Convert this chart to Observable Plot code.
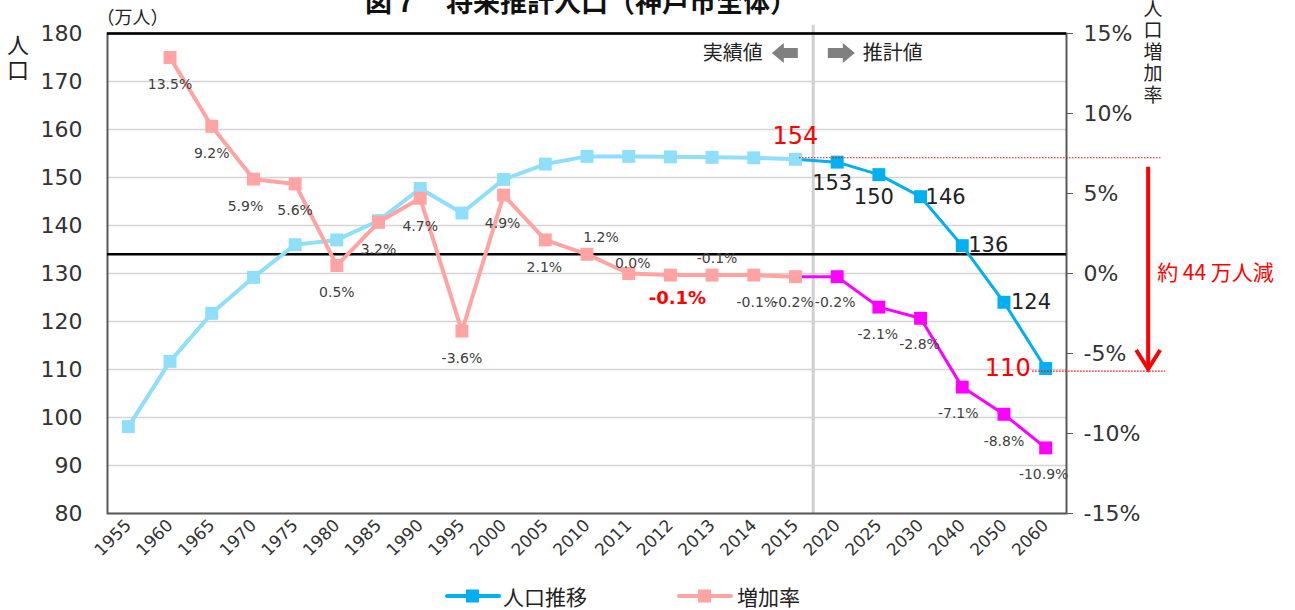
<!DOCTYPE html>
<html><head><meta charset="utf-8">
<script src="https://cdn.jsdelivr.net/npm/d3@7"></script>
<script src="https://cdn.jsdelivr.net/npm/@observablehq/plot@0.6"></script>
<style>
body{margin:0;background:#fff;overflow:hidden;font-family:"DejaVu Sans","Noto Sans CJK JP",sans-serif;}
#wrap{position:relative;width:1295px;height:610px;overflow:hidden;}
#title{position:absolute;left:0;width:1162px;text-align:center;top:-13px;font-size:27px;line-height:27px;font-weight:bold;font-family:"Noto Sans CJK JP",sans-serif;color:#111;}
#legend{position:absolute;left:0;top:570px;width:1295px;height:40px;font-family:"Noto Sans CJK JP",sans-serif;}
#legend span{position:absolute;font-size:21px;line-height:24px;top:14px;color:#222;}
#legend svg{position:absolute;top:18px;}
</style></head><body>
<div id="wrap">
<div id="chart"></div>
<div id="title">図７　将来推計人口（神戸市全体）</div>
<div id="legend"></div>
</div>
<script>
// ---- data ----
const years = ["1955","1960","1965","1970","1975","1980","1985","1990","1995","2000","2005","2010","2011","2012","2013","2014","2015","2020","2025","2030","2040","2050","2060"];
const actualYears = years.slice(0, 17);
const projYears = years.slice(17);
const popActual = [98.1,111.7,121.7,129.2,136.0,137.0,141.0,147.7,142.6,149.6,152.8,154.4,154.4,154.3,154.2,154.1,153.8];
const popProj = [153.2,150.6,146.0,135.8,124.0,110.2];
const rateActualYears = years.slice(1, 17);
const rateActual = [13.5,9.2,5.9,5.6,0.5,3.2,4.7,-3.6,4.9,2.1,1.2,0.0,-0.1,-0.1,-0.1,-0.2];
const rateProj = [-0.2,-2.1,-2.8,-7.1,-8.8,-10.9];
const popLabelYears = ["2015","2020","2025","2030","2040","2050","2060"];
const popLabels = ["154","153","150","146","136","124","110"];
const popTicks = [80,90,100,110,120,130,140,150,160,170,180];
const rateTicks = [-15,-10,-5,0,5,10,15];
const seriesNames = ["人口推移","増加率"];
const leftAxisTitle = "人口";
const rightAxisTitle = "人口増加率";

// ---- layout / style (not data) ----
const rateLabelOffsets = [[0,27],[0,27],[-8,27],[0,27],[0,27],[0,27],[0,28],[0,27],[-1,28],[-1,28],[14,-17],[4,-10],[7,23],[5,-17],[3,27],[-2,26],[-2,26],[-1,27],[-1,26],[-4,26],[0,27],[-2,27]];
const popLabelOffsets = [[0,-23,"middle"],[-5,21,"middle"],[-5,23,"middle"],[5,1,"start"],[6,0,"start"],[7,0,"start"],[-15,0,"end"]];
const C = {light:"#8fdefa", blue:"#00b0f0", pink:"#ffa3a3", mag:"#ff00ff", red:"#ff0000", grid:"#d4d4d4", axis:"#595959", text:"#333"};
const JP = "'Noto Sans CJK JP',sans-serif";

const toY = r => 130 + r * 10 / 3;   // secondary axis (%) -> primary scale

const popA = actualYears.map((yr, i) => ({yr, v: popActual[i]}));
const popP = [{yr: "2015", v: popActual[16]}].concat(projYears.map((yr, i) => ({yr, v: popProj[i]})));
const rateA = rateActualYears.map((yr, i) => ({yr, v: toY(rateActual[i]), r: rateActual[i]}));
const rateP = [{yr: "2015", v: toY(rateActual[15]), r: rateActual[15]}].concat(projYears.map((yr, i) => ({yr, v: toY(rateProj[i]), r: rateProj[i]})));
const rateAll = rateA.concat(rateP.slice(1));
const popAllMap = new Map(popA.concat(popP.slice(1)).map(d => [d.yr, d.v]));

const fmtRate = r => r.toFixed(1) + "%";

const rateLabelMarks = rateAll.map((d, i) => {
  const special = d.yr === "2012";
  return Plot.text([d], {x: "yr", y: "v", text: dd => fmtRate(dd.r),
    dx: rateLabelOffsets[i][0], dy: rateLabelOffsets[i][1],
    fontSize: special ? 18 : 14, fontWeight: special ? "bold" : "normal",
    fill: special ? C.red : "#404040"});
});
const popLabelMarks = popLabelYears.map((yr, i) => {
  const red = (i === 0 || i === popLabelYears.length - 1);
  return Plot.text([{yr, v: popAllMap.get(yr), t: popLabels[i]}], {x: "yr", y: "v", text: "t",
    dx: popLabelOffsets[i][0], dy: popLabelOffsets[i][1], textAnchor: popLabelOffsets[i][2],
    fontSize: red ? 24 : 21, fill: red ? C.red : "#222"});
});

function annotations(index, scales, values, dims) {
  const x = scales.x, y = scales.y;
  const g = d3.create("svg:g");
  const x15 = x("2015"), x20 = x("2020"), x60 = x("2060");
  const sep = (x15 + x20) / 2 - 3;
  const yTop = y(popActual[16]), yBot = y(popProj[popProj.length - 1]) + 3;
  // vertical axis titles
  g.append("text").attr("x", dims.marginLeft - 89).attr("y", y(180) + 1)
    .style("writing-mode", "vertical-rl").attr("text-anchor", "start")
    .attr("font-size", 22).attr("letter-spacing", 3).attr("fill", "#222").attr("font-family", JP).text(leftAxisTitle);
  g.append("text").attr("x", dims.width - dims.marginRight + 87).attr("y", -1)
    .style("writing-mode", "vertical-rl").attr("text-anchor", "start")
    .attr("font-size", 19).attr("letter-spacing", 2.5).attr("fill", "#222").attr("font-family", JP).text(rightAxisTitle);
  // dotted reference lines
  g.append("line").attr("x1", x15 + 4).attr("x2", x60 + 116).attr("y1", yTop - 1).attr("y2", yTop - 1)
    .attr("stroke", C.red).attr("stroke-width", 1.2).attr("stroke-dasharray", "1.5,1.5");
  g.append("line").attr("x1", x60 - 13).attr("x2", x60 + 120).attr("y1", yBot).attr("y2", yBot)
    .attr("stroke", C.red).attr("stroke-width", 1.2).attr("stroke-dasharray", "1.5,1.5");
  // red arrow
  const ax = x60 + 103;
  g.append("line").attr("x1", ax).attr("x2", ax).attr("y1", yTop + 8).attr("y2", yBot - 2)
    .attr("stroke", C.red).attr("stroke-width", 4);
  g.append("path").attr("d", `M${ax - 12},${yBot - 21}L${ax},${yBot - 2}L${ax + 12},${yBot - 21}`)
    .attr("fill", "none").attr("stroke", C.red).attr("stroke-width", 4).attr("stroke-linejoin", "miter");
  g.append("text").attr("x", ax + 9).attr("y", y(130)).attr("dy", "0.35em").attr("text-anchor", "start")
    .attr("fill", C.red).attr("font-size", 21).attr("font-family", JP)
    .text("約 44 万人減");
  // 実績値 / 推計値 arrows
  const ay = y(180) + 20;
  g.append("text").attr("x", sep - 50).attr("y", ay).attr("dy", "0.35em").attr("text-anchor", "end")
    .attr("font-size", 20).attr("fill", "#222").attr("font-family", JP).text("実績値");
  g.append("text").attr("x", sep + 50).attr("y", ay).attr("dy", "0.35em").attr("text-anchor", "start")
    .attr("font-size", 20).attr("fill", "#222").attr("font-family", JP).text("推計値");
  const l0 = sep - 41, l1 = sep - 15;
  g.append("path").attr("d", `M${l0},${ay}L${l0 + 12},${ay - 10}L${l0 + 12},${ay - 5}L${l1},${ay - 5}L${l1},${ay + 5}L${l0 + 12},${ay + 5}L${l0 + 12},${ay + 10}Z`).attr("fill", "#808080");
  const r0 = sep + 15, r1 = sep + 42;
  g.append("path").attr("d", `M${r1},${ay}L${r1 - 12},${ay - 10}L${r1 - 12},${ay - 5}L${r0},${ay - 5}L${r0},${ay + 5}L${r1 - 12},${ay + 5}L${r1 - 12},${ay + 10}Z`).attr("fill", "#808080");
  return g.node();
}

const chart = Plot.plot({
  width: 1295, height: 570,
  marginTop: 33, marginBottom: 57, marginLeft: 107, marginRight: 229,
  style: {fontFamily: "'DejaVu Sans','Noto Sans CJK JP',sans-serif", color: C.text, background: "#fff", overflow: "visible"},
  x: {type: "point", domain: years, padding: 0.5, round: false, axis: null},
  y: {domain: [80, 180], axis: null},
  marks: [
    Plot.gridY(popTicks, {stroke: C.grid, strokeOpacity: 1, strokeWidth: 1.6}),
    Plot.ruleX(["2020"], {dx: -24, y1: 80, y2: 181.7, stroke: "#d0d0d0", strokeWidth: 3}),
    Plot.frame({stroke: C.axis, strokeWidth: 2}),
    Plot.ruleY([180], {stroke: "#000", strokeWidth: 2.5}),
    Plot.ruleY([134], {stroke: "#000", strokeWidth: 2.5}),
    Plot.axisY({anchor: "left", ticks: popTicks, tickSize: 0, tickPadding: 25, fontSize: 22, label: null, tickFormat: d => String(d)}),
    Plot.axisY({anchor: "right", ticks: rateTicks.map(toY), tickSize: 6, tickPadding: 11, fontSize: 22, label: null, stroke: C.axis,
      tickFormat: v => Math.round((v - 130) * 0.3) + "%"}),
    Plot.axisX({anchor: "bottom", tickRotate: -45, tickSize: 0, tickPadding: 9, fontSize: 17, label: null}),
    Plot.text(["（万人）"], {frameAnchor: "top-left", textAnchor: "middle", lineAnchor: "middle", dx: 25, dy: -15, fontSize: 18, fill: "#222", fontFamily: JP}),
    // population
    Plot.line(popA, {x: "yr", y: "v", stroke: C.light, strokeWidth: 4}),
    Plot.line(popP, {x: "yr", y: "v", stroke: C.blue, strokeWidth: 3}),
    Plot.dot(popA, {x: "yr", y: "v", symbol: "square", r: 7.3, fill: C.light}),
    Plot.dot(popP.slice(1), {x: "yr", y: "v", symbol: "square", r: 7.3, fill: C.blue}),
    // rate
    Plot.line(rateA, {x: "yr", y: "v", stroke: C.pink, strokeWidth: 4}),
    Plot.line(rateP, {x: "yr", y: "v", stroke: C.mag, strokeWidth: 3}),
    Plot.dot(rateA, {x: "yr", y: "v", symbol: "square", r: 7.3, fill: C.pink}),
    Plot.dot(rateP.slice(1), {x: "yr", y: "v", symbol: "square", r: 7.3, fill: C.mag}),
    annotations,
    ...rateLabelMarks,
    ...popLabelMarks
  ]
});
document.getElementById("chart").appendChild(chart);

// legend
const legend = document.getElementById("legend");
const items = [{name: seriesNames[0], color: C.blue, x: 445, tx: 503}, {name: seriesNames[1], color: C.pink, x: 677, tx: 737}];
items.forEach(it => {
  const s = d3.create("svg").attr("width", 56).attr("height", 16).style("left", it.x + "px");
  s.append("line").attr("x1", 2).attr("x2", 54).attr("y1", 8).attr("y2", 8).attr("stroke", it.color).attr("stroke-width", 4).attr("stroke-linecap", "round");
  s.append("rect").attr("x", 21).attr("y", 1.5).attr("width", 13).attr("height", 13).attr("fill", it.color);
  legend.appendChild(s.node());
  const sp = document.createElement("span");
  sp.style.left = it.tx + "px";
  sp.textContent = it.name;
  legend.appendChild(sp);
});
</script>
</body></html>
